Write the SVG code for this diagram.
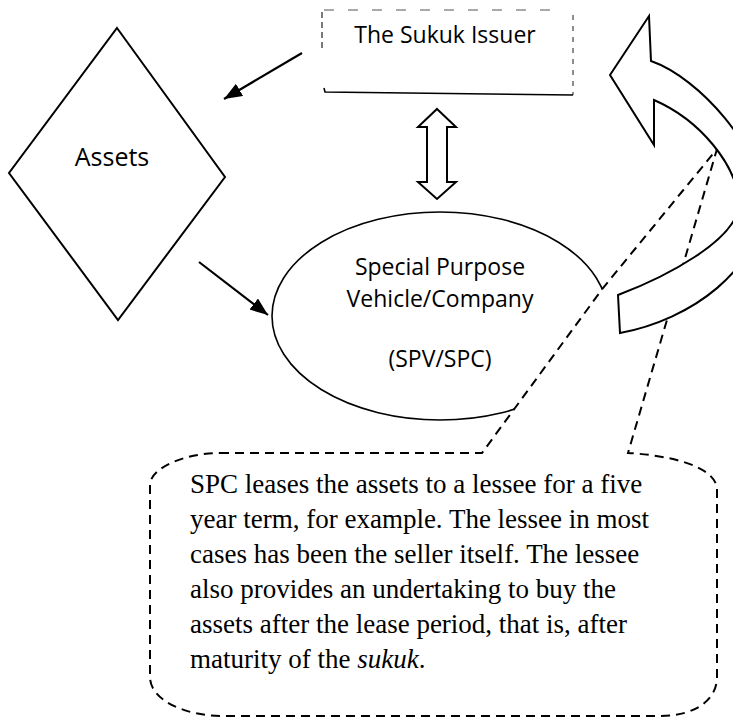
<svg xmlns="http://www.w3.org/2000/svg" width="733" height="718" viewBox="0 0 733 718">
<style>
.sans{font-family:"Open Sans","Liberation Sans",sans-serif;fill:#000;text-anchor:middle}
.serif{font-family:"Liberation Serif","Times New Roman",serif;font-size:27px;fill:#000}
.shape{fill:#fff;stroke:#000;stroke-width:2}
.conn{stroke:#000;stroke-width:2.2;fill:none}
.dash{fill:#fff;stroke:#000;stroke-width:2;stroke-dasharray:9 6}
</style>
<defs>
<marker id="ah" markerUnits="userSpaceOnUse" markerWidth="20" markerHeight="15" refX="18" refY="7" orient="auto">
<path d="M0,0 L18,7 L0,14 z" fill="#000"/>
</marker>
</defs>
<rect width="733" height="718" fill="#fff"/>

<g id="issuer">
<line x1="324" y1="10" x2="560" y2="10" stroke="#555" stroke-width="1.2" stroke-dasharray="10 14"/>
<line x1="322" y1="12" x2="322" y2="48" stroke="#222" stroke-width="1.2" stroke-dasharray="6 4"/>
<line x1="573" y1="15" x2="573" y2="95" stroke="#444" stroke-width="1.2" stroke-dasharray="5 6"/>
<polyline points="324,88 325,92 573,95" fill="none" stroke="#000" stroke-width="1.6"/>
<text class="sans" x="445" y="43" font-size="23">The Sukuk Issuer</text>
</g>

<g id="assets">
<polygon class="shape" points="117,28 225,177 118,320 9,173"/>
<text class="sans" x="112" y="166" font-size="25">Assets</text>
</g>

<g id="spv">
<ellipse cx="440" cy="316" rx="168" ry="104" fill="#fff" stroke="#000" stroke-width="1.6"/>
<text class="sans" x="440" y="275" font-size="23">Special Purpose</text>
<text class="sans" x="440" y="307" font-size="23">Vehicle/Company</text>
<text class="sans" x="440" y="367" font-size="23">(SPV/SPC)</text>
</g>

<g id="connectors">
<line class="conn" x1="302" y1="53" x2="224" y2="99" marker-end="url(#ah)"/>
<line class="conn" x1="199" y1="262" x2="268" y2="315" marker-end="url(#ah)"/>
<polygon class="shape" points="437,109 456,127 447,127 447,182 456,182 437,199 418,182 427,182 427,127 418,127"/>
</g>

<g id="callout">
<path class="dash" d="M 220,453 L 482,453 L 603,288 L 717,149 L 628,453 C 665,455 717,465 717,490 L 717,677 C 717,700 695,716 660,716 L 223,716 C 185,716 150,700 150,677 L 150,485 C 150,468 185,453 220,453 Z"/>
<text class="serif" x="190" y="493">SPC leases the assets to a lessee for a five</text>
<text class="serif" x="190" y="528">year term, for example. The lessee in most</text>
<text class="serif" x="190" y="563">cases has been the seller itself. The lessee</text>
<text class="serif" x="190" y="598">also provides an undertaking to buy the</text>
<text class="serif" x="190" y="633">assets after the lease period, that is, after</text>
<text class="serif" x="190" y="668">maturity of the <tspan font-style="italic">sukuk</tspan>.</text>
</g>

<g id="curved-arrow">
<path class="shape" d="M 610,75 L 649,16 L 651,61 C 700,78 762,150 762,200 C 762,270 690,320 620,333 L 618,295 C 663,278 739,240 739,203 C 737,165 700,120 654,100 L 654,145 Z"/>
</g>
</svg>
